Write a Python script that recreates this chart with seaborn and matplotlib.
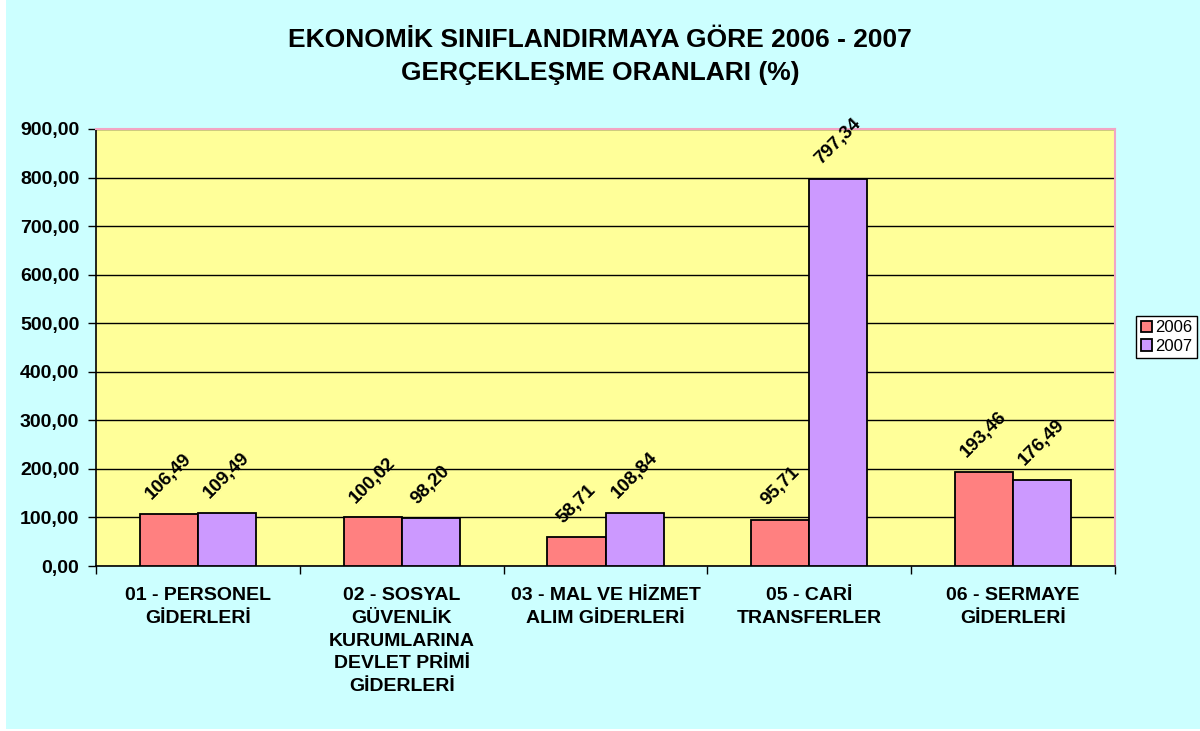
import pandas as pd
import numpy as np
import matplotlib.pyplot as plt
import matplotlib.patches as mpatches
from matplotlib.ticker import FuncFormatter, FixedLocator
import seaborn as sns

#data
CATEGORIES = [
    "01 - PERSONEL\nGİDERLERİ",
    "02 - SOSYAL\nGÜVENLİK\nKURUMLARINA\nDEVLET PRİMİ\nGİDERLERİ",
    "03 - MAL VE HİZMET\nALIM GİDERLERİ",
    "05 - CARİ\nTRANSFERLER",
    "06 - SERMAYE\nGİDERLERİ",
]
YEARS = ["2006", "2007"]
RATE_2006 = [106.49, 100.02, 58.71, 95.71, 193.46]
RATE_2007 = [109.49, 98.20, 108.84, 797.34, 176.49]
Y_TICKS = [0, 100, 200, 300, 400, 500, 600, 700, 800, 900]

TITLE = "EKONOMİK SINIFLANDIRMAYA GÖRE 2006 - 2007\nGERÇEKLEŞME ORANLARI (%)"

#colours
BG_COLOR   = "#CCFFFF"
PLOT_COLOR = "#FFFF99"
BAR_COLORS = ["#FF8080", "#CC99FF"]
PINK       = "#F2A5C4"

df = pd.DataFrame({
    "kategori": CATEGORIES * 2,
    "yil":      [YEARS[0]] * len(CATEGORIES) + [YEARS[1]] * len(CATEGORIES),
    "oran":     RATE_2006 + RATE_2007,
})

sns.set_style("white")
plt.rcParams.update({
    "font.family": ["Liberation Sans", "DejaVu Sans"],
    "text.color":  "black",
    "xtick.color": "black",
    "ytick.color": "black",
    "axes.labelcolor": "black",
})

fig = plt.figure(figsize=(12, 7.31), dpi=100, facecolor="white")
#cyan background with thin white strip at left and bottom
fig.patches.append(mpatches.Rectangle(
    (6 / 1200, 2 / 731), 1 - 6 / 1200, 1 - 2 / 731,
    transform=fig.transFigure, facecolor=BG_COLOR, edgecolor="none", zorder=-5
))

ax = fig.add_axes([96 / 1200, 1 - 566 / 731, (1115 - 96) / 1200, (566 - 129) / 731])
ax.set_facecolor(PLOT_COLOR)

sns.barplot(
    data=df, x="kategori", y="oran", hue="yil",
    palette=BAR_COLORS, saturation=1, width=0.57,
    edgecolor="black", linewidth=1.3, ax=ax, zorder=3
)

#value labels, rotated
for cont in ax.containers:
    vals = [b.get_height() for b in cont]
    ax.bar_label(
        cont, labels=[f"{v:.2f}".replace(".", ",") for v in vals],
        padding=8, rotation=45, fontsize=13.5, fontweight="bold"
    )

ax.set_ylim(0, 900)
ax.set_xlim(-0.5, len(CATEGORIES) - 0.5)
ax.set_yticks(Y_TICKS)
ax.yaxis.set_major_formatter(FuncFormatter(lambda v, _: f"{v:.2f}".replace(".", ",")))
ax.yaxis.grid(True, color="black", linewidth=1.0, zorder=1)
ax.set_axisbelow(True)

ax.set_xlabel("")
ax.set_ylabel("")
ax.tick_params(axis="y", length=6, width=1, pad=6, labelsize=14, left=True)
for lab in ax.get_yticklabels():
    lab.set_fontweight("bold")

#category separators as minor ticks
ax.xaxis.set_minor_locator(FixedLocator(np.arange(-0.5, len(CATEGORIES), 1.0)))
ax.tick_params(axis="x", which="minor", length=6, width=1, bottom=True)
ax.tick_params(axis="x", which="major", length=0, pad=15, labelsize=14)
for lab in ax.get_xticklabels():
    lab.set_fontweight("bold")
    lab.set_linespacing(1.45)

for side in ["left", "bottom"]:
    ax.spines[side].set_color("black")
    ax.spines[side].set_linewidth(1.2)
for side in ["top", "right"]:
    ax.spines[side].set_color(PINK)
    ax.spines[side].set_linewidth(1.5)

leg = ax.legend(
    loc="center left", bbox_to_anchor=(1.021, 0.524),
    fontsize=12, frameon=True, fancybox=False, framealpha=1,
    edgecolor="black", facecolor="white",
    handlelength=0.7, handleheight=0.7, handletextpad=0.2,
    borderpad=0.25, labelspacing=0.2, borderaxespad=0
)
leg.get_frame().set_linewidth(1.0)

fig.text(0.5, 1 - 28 / 731, TITLE, ha="center", va="top",
         fontsize=19, fontweight="bold", linespacing=1.45)

fig.savefig("out.png", dpi=100, facecolor=fig.get_facecolor())
